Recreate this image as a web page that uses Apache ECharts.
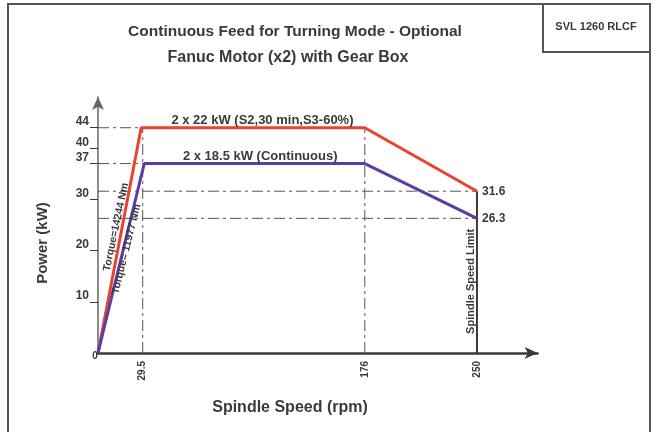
<!DOCTYPE html>
<html><head><meta charset="utf-8">
<script src="https://cdn.jsdelivr.net/npm/echarts@6/dist/echarts.min.js"></script>
<style>html,body{margin:0;padding:0;background:#fff}#c{width:657px;height:432px}</style>
</head><body><div id="c"></div>
<script>
// ---- data ----
const titleLine1 = 'Continuous Feed for Turning Mode - Optional';
const titleLine2 = 'Fanuc Motor (x2) with Gear Box';
const modelTag = 'SVL 1260 RLCF';
const xName = 'Spindle Speed (rpm)';
const yName = 'Power (kW)';
const s2Curve = [[0, 0], [28.5, 44], [176, 44], [250, 31.6]];      // 2 x 22 kW S2
const contCurve = [[0, 0], [30.5, 37], [176, 37], [250, 26.3]];    // 2 x 18.5 kW continuous
const s2Label = '2 x 22 kW (S2,30 min,S3-60%)';
const contLabel = '2 x 18.5 kW (Continuous)';
const s2Torque = 'Torque=14244 Nm';
const contTorque = 'Torque= 11977 Nm';
const speedLimitLabel = 'Spindle Speed Limit';
const xTicks = [29.5, 176, 250];
const yTicks = [10, 20, 30, 37, 40, 44];
const guideH = [[0, 28.5, 44], [0, 30.5, 37], [0, 250, 31.6], [0, 250, 26.3]]; // [x0,x1,y]
const guideV = [[29.5, 0, 44], [176, 0, 44]];                                    // [x,y0,y1]
const limitLine = [[250, 0], [250, 31.6]];

const dark = '#3a3a3a';
const red = '#e8432e';
const blue = '#5a3ea3';
const font = '"Liberation Sans", Arial, sans-serif';
const dashDot = [11, 4, 3, 4];

const series = [];
guideH.forEach(g => series.push({type: 'line', data: [[g[0], g[2]], [g[1], g[2]]], symbol: 'none', silent: true,
  lineStyle: {color: '#555', width: 1, type: dashDot}, z: 1}));
guideV.forEach(g => series.push({type: 'line', data: [[g[0], g[1]], [g[0], g[2]]], symbol: 'none', silent: true,
  lineStyle: {color: '#555', width: 1, type: dashDot}, z: 1}));
series.push({type: 'line', data: limitLine, symbol: 'none', lineStyle: {color: dark, width: 2}, z: 2,
  markPoint: {symbol: 'circle', symbolSize: 0, data: [{coord: [246, 14], label: {show: true, formatter: speedLimitLabel,
    rotate: 90, color: dark, fontFamily: font, fontWeight: 'bold', fontSize: 11, position: 'inside'}}]}});

function curve(data, color, lbl, lblCoord, torque, tCoord, tRot) {
  const last = data[data.length - 1];
  return {type: 'line', data: data, symbol: 'none', lineStyle: {color: color, width: 3}, z: 5,
    markPoint: {symbol: 'circle', symbolSize: 0, z: 6, data: [
      {coord: lblCoord, label: {show: true, formatter: lbl, position: 'top', distance: 1, color: dark, fontFamily: font, fontWeight: 'bold', fontSize: 13}},
      {coord: tCoord, label: {show: true, formatter: torque, position: 'inside', rotate: tRot, color: dark, fontFamily: font, fontWeight: 'bold', fontSize: 10.5}},
      {coord: last, label: {show: true, formatter: String(last[1]), position: 'right', distance: 5, color: dark, fontFamily: font, fontWeight: 'bold', fontSize: 12}}
    ]}};
}
series.push(curve(s2Curve, red, s2Label, [108.5, 44], s2Torque, [11.9, 24.6], 78));
series.push(curve(contCurve, blue, contLabel, [107, 37], contTorque, [18.8, 20.3], 76));

const chart = echarts.init(document.getElementById('c'), null, {renderer: 'canvas'});
chart.setOption({
  animation: false,
  grid: {left: 98, top: 97, right: 119.4, bottom: 79, containLabel: false},
  xAxis: {type: 'value', min: 0, max: 290, splitLine: {show: false},
    axisLine: {onZero: false, symbol: ['none', 'arrow'], symbolSize: [9, 13], lineStyle: {color: dark, width: 2.5}},
    axisTick: {show: false},
    axisLabel: {customValues: xTicks, rotate: 90, margin: 8, color: dark, fontFamily: font, fontWeight: 'bold', fontSize: 10}},
  yAxis: {type: 'value', min: 0, max: 50, splitLine: {show: false},
    axisLine: {onZero: false, symbol: ['none', 'arrow'], symbolSize: [9, 13], lineStyle: {color: '#666', width: 1.5}},
    axisTick: {customValues: yTicks, length: 8, lineStyle: {color: dark, width: 1}},
    axisLabel: {customValues: yTicks, margin: 9, verticalAlign: 'bottom', color: dark, fontFamily: font, fontWeight: 'bold', fontSize: 12}},
  graphic: [
    {type: 'rect', shape: {x: 8, y: 4, width: 642, height: 440}, style: {fill: 'none', stroke: '#555', lineWidth: 2}, silent: true},
    {type: 'rect', shape: {x: 543, y: 4, width: 107, height: 48}, style: {fill: 'none', stroke: '#555', lineWidth: 2}, silent: true},
    {type: 'text', x: 596, y: 27, style: {text: modelTag, fill: dark, font: 'bold 11px ' + font, textAlign: 'center', textVerticalAlign: 'middle'}},
    {type: 'text', x: 295, y: 32, style: {text: titleLine1, fill: dark, font: 'bold 15.5px ' + font, textAlign: 'center', textVerticalAlign: 'middle'}},
    {type: 'text', x: 288, y: 58, style: {text: titleLine2, fill: dark, font: 'bold 16px ' + font, textAlign: 'center', textVerticalAlign: 'middle'}},
    {type: 'text', x: 290, y: 408, style: {text: xName, fill: dark, font: 'bold 16px ' + font, textAlign: 'center', textVerticalAlign: 'middle'}},
    {type: 'text', x: 43, y: 243, rotation: Math.PI / 2, style: {text: yName, fill: dark, font: 'bold 15px ' + font, textAlign: 'center', textVerticalAlign: 'middle'}},
    {type: 'text', x: 95, y: 356, style: {text: '0', fill: dark, font: 'bold 10px ' + font, textAlign: 'center', textVerticalAlign: 'middle'}}
  ],
  series: series
});
</script></body></html>
